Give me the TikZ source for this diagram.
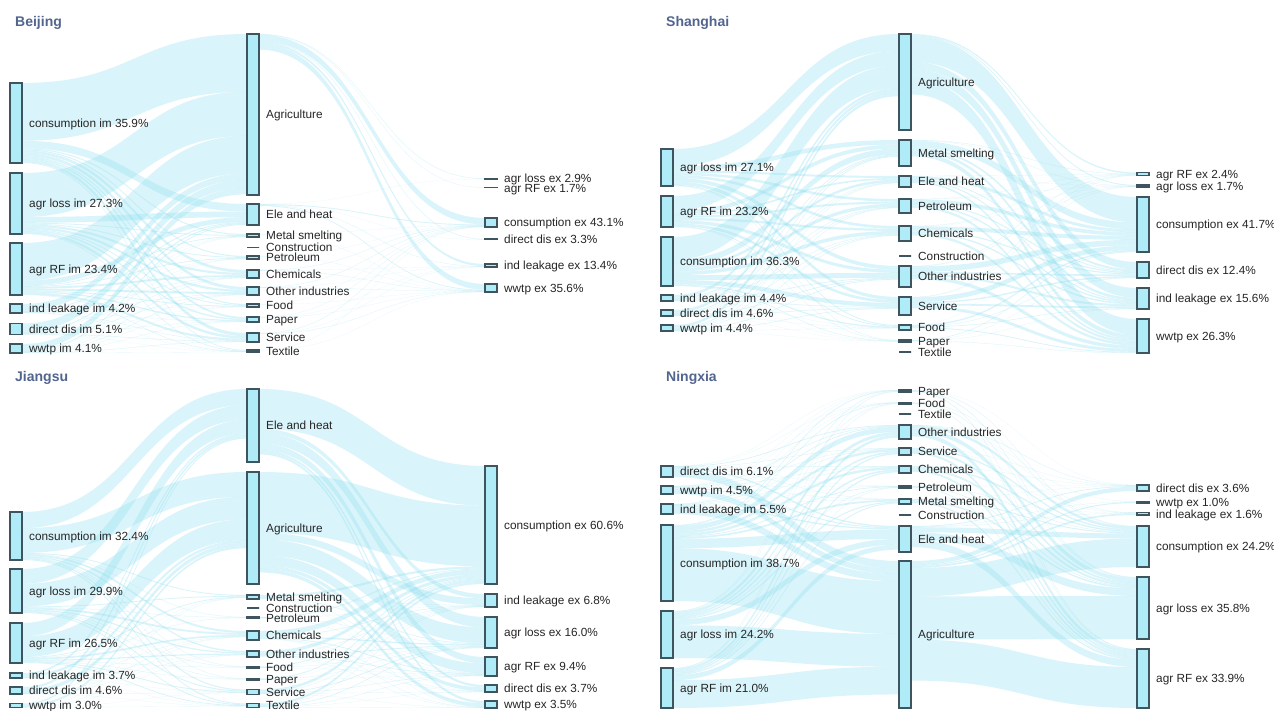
\documentclass[tikz,border=0pt]{standalone}
\usepackage{fontspec}
\setmainfont{Liberation Sans}
\usetikzlibrary{calc}
\definecolor{barfill}{HTML}{B0ECF8}
\definecolor{bardraw}{HTML}{3E5560}
\definecolor{flowc}{HTML}{8EE0F0}
\definecolor{titlec}{HTML}{52658F}
\pgfdeclarelayer{flowlayer}
\pgfsetlayers{flowlayer,main}
\tikzset{
  bar/.style={shape=rectangle, draw=bardraw, fill=barfill, line width=1.2pt, inner sep=0pt, outer sep=0pt, minimum width=12pt, anchor=north west},
  lab/.style={anchor=west, inner sep=0pt, text height=8.5pt, text depth=0pt, font=\fontsize{11.8}{12}\selectfont, text=black!85},
  ttl/.style={anchor=west, inner sep=0pt, font=\bfseries\fontsize{14}{14}\selectfont, text=titlec},
  flow/.style={fill=flowc, fill opacity=0.33, draw=none},
}
\newcommand\mkbar[6][0pt]{%
  \node[bar, minimum height=#5pt] (#2) at (#3,#4) {};
  \node[lab] (#2-t) at ([xshift=7pt,yshift=#1]#2.east) {#6};}
\newcommand\mkflows[4]{%
  \foreach \sN/\sH/\sC in #1 {%
    \foreach \tN/\tH/\tC in #2 {%
      \pgfmathsetmacro\fw{\sH/#3*\tH}%
      \pgfmathsetmacro\fa{\sH/#3*\tC}%
      \pgfmathsetmacro\fb{\tH/#3*\sC}%
      \pgfmathsetmacro\fA{\fa+\fw}%
      \pgfmathsetmacro\fB{\fb+\fw}%
      \ifdim\fw pt>0.05pt
        \fill[flow] ([yshift=-\fa pt]\sN.north east) .. controls +(#4pt,0pt) and +(-#4pt,0pt) .. ([yshift=-\fb pt]\tN.north west)
          -- ([yshift=-\fB pt]\tN.north west) .. controls +(-#4pt,0pt) and +(#4pt,0pt) .. ([yshift=-\fA pt]\sN.north east) -- cycle;
      \fi
    }%
  }%
}
\def\listBL{BL1/80/0, BL2/61/80, BL3/52/141, BL4/9/193, BL5/11/202, BL6/9/213}
\def\listBM{BM1/161/0, BM2/21/161, BM3/3/182, BM4/0/185, BM5/3/185, BM6/8/188, BM7/8/196, BM8/3/204, BM9/5/207, BM10/9/212, BM11/2/221}
\def\listBR{BR1/0.6/0, BR2/0.4/0.6, BR3/9/1, BR4/0.7/10, BR5/3/10.7, BR6/8/13.7}
\def\listSL{SL1/37/0, SL2/31/37, SL3/49/68, SL4/6/117, SL5/6/123, SL6/6/129}
\def\listSM{SM1/96/0, SM2/26/96, SM3/11/122, SM4/14/133, SM5/15/147, SM6/0/162, SM7/21/162, SM8/18/183, SM9/5/201, SM10/2/206, SM11/0/208}
\def\listSR{SR1/3/0, SR2/2/3, SR3/55/5, SR4/16/60, SR5/21/76, SR6/34/97}
\def\listJL{JL1/48/0, JL2/44/48, JL3/40/92, JL4/5/132, JL5/7/137, JL6/4/144}
\def\listJM{JM1/73/0, JM2/112/73, JM3/4/185, JM4/0/189, JM5/1.5/189, JM6/9/190.5, JM7/6/199.5, JM8/1.5/205.5, JM9/1.5/207, JM10/5/208.5, JM11/4/213.5}
\def\listJR{JR1/118/0, JR2/13/118, JR3/31/131, JR4/19/162, JR5/7/181, JR6/7/188}
\def\listNL{NL1/11/0, NL2/8/11, NL3/10/19, NL4/76/29, NL5/47/105, NL6/40/152}
\def\listNM{NM1/2/0, NM2/1.5/2, NM3/0/3.5, NM4/14/3.5, NM5/7/17.5, NM6/7/24.5, NM7/2/31.5, NM8/5/33.5, NM9/0/38.5, NM10/26/38.5, NM11/147/64.5}
\def\listNR{NR1/6/0, NR2/1.5/6, NR3/2.5/7.5, NR4/41/10, NR5/62/51, NR6/59/113}
\begin{document}
\begin{tikzpicture}[x=1pt, y=-1pt]
\useasboundingbox (0,0) rectangle (1274,711);
% ---------------- Beijing
\node[ttl] (tB) at (15,23) {Beijing};
\mkbar{BL1}{10}{83}{80}{consumption im 35.9\%}
\mkbar{BL2}{10}{173}{61}{agr loss im 27.3\%}
\mkbar{BL3}{10}{243}{52}{agr RF im 23.4\%}
\mkbar{BL4}{10}{304}{9}{ind leakage im 4.2\%}
\mkbar{BL5}{10}{323.5}{11}{direct dis im 5.1\%}
\mkbar{BL6}{10}{344}{9}{wwtp im 4.1\%}
\mkbar{BM1}{247}{34}{161}{Agriculture}
\mkbar{BM2}{247}{204}{21}{Ele and heat}
\mkbar{BM3}{247}{234}{3}{Metal smelting}
\mkbar{BM4}{247}{247.5}{0}{Construction}
\mkbar{BM5}{247}{256}{3}{Petroleum}
\mkbar{BM6}{247}{270}{8}{Chemicals}
\mkbar{BM7}{247}{287}{8}{Other industries}
\mkbar{BM8}{247}{304}{3}{Food}
\mkbar{BM9}{247}{317}{5}{Paper}
\mkbar{BM10}{247}{333}{9}{Service}
\mkbar{BM11}{247}{350}{2}{Textile}
\mkbar[1pt]{BR1}{485}{178.5}{0.6}{agr loss ex 2.9\%}
\mkbar[-1pt]{BR2}{485}{187.5}{0.4}{agr RF ex 1.7\%}
\mkbar{BR3}{485}{218}{9}{consumption ex 43.1\%}
\mkbar{BR4}{485}{239}{0.7}{direct dis ex 3.3\%}
\mkbar{BR5}{485}{264}{3}{ind leakage ex 13.4\%}
\mkbar{BR6}{485}{284}{8}{wwtp ex 35.6\%}
% ---------------- Shanghai
\node[ttl] (tS) at (666,23) {Shanghai};
\mkbar{SL1}{661}{149}{37}{agr loss im 27.1\%}
\mkbar{SL2}{661}{196}{31}{agr RF im 23.2\%}
\mkbar{SL3}{661}{237}{49}{consumption im 36.3\%}
\mkbar{SL4}{661}{295}{6}{ind leakage im 4.4\%}
\mkbar{SL5}{661}{310}{6}{direct dis im 4.6\%}
\mkbar{SL6}{661}{325}{6}{wwtp im 4.4\%}
\mkbar{SM1}{899}{34}{96}{Agriculture}
\mkbar{SM2}{899}{140}{26}{Metal smelting}
\mkbar{SM3}{899}{176}{11}{Ele and heat}
\mkbar{SM4}{899}{199}{14}{Petroleum}
\mkbar{SM5}{899}{226}{15}{Chemicals}
\mkbar{SM6}{899}{256}{0}{Construction}
\mkbar{SM7}{899}{266}{21}{Other industries}
\mkbar{SM8}{899}{297}{18}{Service}
\mkbar{SM9}{899}{325}{5}{Food}
\mkbar{SM10}{899}{340}{2}{Paper}
\mkbar{SM11}{899}{352}{0}{Textile}
\mkbar{SR1}{1137}{172.5}{3}{agr RF ex 2.4\%}
\mkbar{SR2}{1137}{185}{2}{agr loss ex 1.7\%}
\mkbar{SR3}{1137}{197}{55}{consumption ex 41.7\%}
\mkbar{SR4}{1137}{262}{16}{direct dis ex 12.4\%}
\mkbar{SR5}{1137}{288}{21}{ind leakage ex 15.6\%}
\mkbar{SR6}{1137}{319}{34}{wwtp ex 26.3\%}
% ---------------- Jiangsu
\node[ttl] (tJ) at (15,378) {Jiangsu};
\mkbar{JL1}{10}{512}{48}{consumption im 32.4\%}
\mkbar{JL2}{10}{569}{44}{agr loss im 29.9\%}
\mkbar{JL3}{10}{623}{40}{agr RF im 26.5\%}
\mkbar{JL4}{10}{673}{5}{ind leakage im 3.7\%}
\mkbar{JL5}{10}{687}{7}{direct dis im 4.6\%}
\mkbar{JL6}{10}{703.5}{4}{wwtp im 3.0\%}
\mkbar{JM1}{247}{389}{73}{Ele and heat}
\mkbar{JM2}{247}{472}{112}{Agriculture}
\mkbar{JM3}{247}{595}{4}{Metal smelting}
\mkbar{JM4}{247}{608}{0}{Construction}
\mkbar{JM5}{247}{617}{1.5}{Petroleum}
\mkbar{JM6}{247}{631}{9}{Chemicals}
\mkbar{JM7}{247}{651}{6}{Other industries}
\mkbar{JM8}{247}{666.5}{1.5}{Food}
\mkbar{JM9}{247}{678.5}{1.5}{Paper}
\mkbar{JM10}{247}{689.5}{5}{Service}
\mkbar{JM11}{247}{703.5}{4}{Textile}
\mkbar{JR1}{485}{466}{118}{consumption ex 60.6\%}
\mkbar{JR2}{485}{594}{13}{ind leakage ex 6.8\%}
\mkbar{JR3}{485}{617}{31}{agr loss ex 16.0\%}
\mkbar{JR4}{485}{657}{19}{agr RF ex 9.4\%}
\mkbar{JR5}{485}{685}{7}{direct dis ex 3.7\%}
\mkbar{JR6}{485}{701}{7}{wwtp ex 3.5\%}
% ---------------- Ningxia
\node[ttl] (tN) at (666,378) {Ningxia};
\mkbar{NL1}{661}{466}{11}{direct dis im 6.1\%}
\mkbar{NL2}{661}{486}{8}{wwtp im 4.5\%}
\mkbar{NL3}{661}{504}{10}{ind leakage im 5.5\%}
\mkbar{NL4}{661}{525}{76}{consumption im 38.7\%}
\mkbar{NL5}{661}{611}{47}{agr loss im 24.2\%}
\mkbar{NL6}{661}{668}{40}{agr RF im 21.0\%}
\mkbar{NM1}{899}{390}{2}{Paper}
\mkbar{NM2}{899}{402.5}{1.5}{Food}
\mkbar{NM3}{899}{414}{0}{Textile}
\mkbar{NM4}{899}{425}{14}{Other industries}
\mkbar{NM5}{899}{448}{7}{Service}
\mkbar{NM6}{899}{466}{7}{Chemicals}
\mkbar{NM7}{899}{486}{2}{Petroleum}
\mkbar{NM8}{899}{499}{5}{Metal smelting}
\mkbar{NM9}{899}{515}{0}{Construction}
\mkbar{NM10}{899}{526}{26}{Ele and heat}
\mkbar{NM11}{899}{561}{147}{Agriculture}
\mkbar{NR1}{1137}{485}{6}{direct dis ex 3.6\%}
\mkbar{NR2}{1137}{501.5}{1.5}{wwtp ex 1.0\%}
\mkbar{NR3}{1137}{512.5}{2.5}{ind leakage ex 1.6\%}
\mkbar{NR4}{1137}{526}{41}{consumption ex 24.2\%}
\mkbar{NR5}{1137}{577}{62}{agr loss ex 35.8\%}
\mkbar{NR6}{1137}{649}{59}{agr RF ex 33.9\%}
% ---------------- flows
\begin{pgfonlayer}{flowlayer}
  \fill[white] (0,0) rectangle (1274,711);
  \mkflows{\listBL}{\listBM}{223}{112}
  \mkflows{\listBM}{\listBR}{223}{113}
  \mkflows{\listSL}{\listSM}{208}{113}
  \mkflows{\listSM}{\listSR}{208}{113}
  \mkflows{\listJL}{\listJM}{217.5}{112}
  \mkflows{\listJM}{\listJR}{217.5}{113}
  \mkflows{\listNL}{\listNM}{211.5}{113}
  \mkflows{\listNM}{\listNR}{211.5}{113}
\end{pgfonlayer}
\end{tikzpicture}
\end{document}
